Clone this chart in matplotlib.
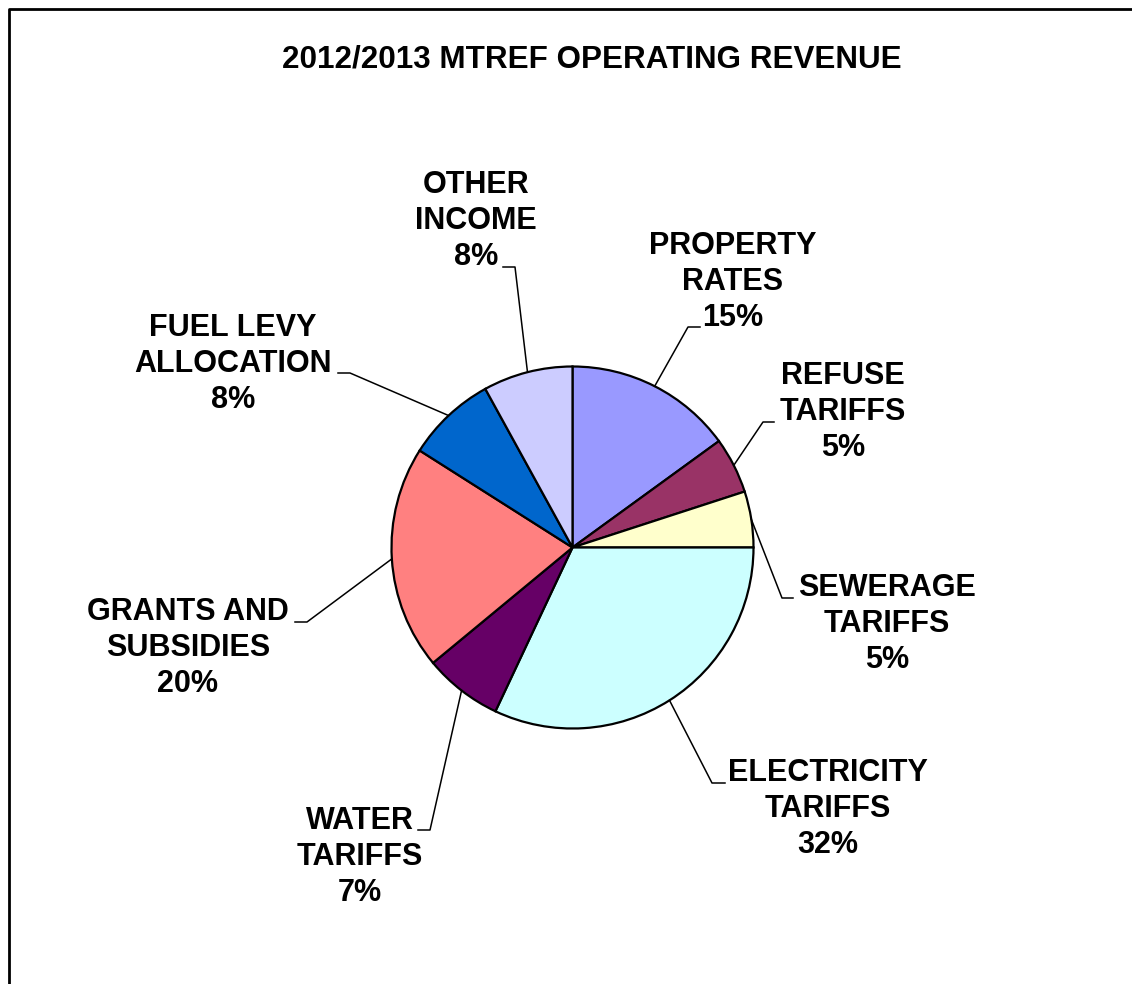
import numpy as np
import matplotlib.pyplot as plt
from matplotlib.lines import Line2D

# Revenue split, percent of total (clockwise from 12 o'clock)
categories = ["PROPERTY\nRATES", "REFUSE\nTARIFFS", "SEWERAGE\nTARIFFS",
              "ELECTRICITY\nTARIFFS", "WATER\nTARIFFS", "GRANTS AND\nSUBSIDIES",
              "FUEL LEVY\nALLOCATION", "OTHER\nINCOME"]
shares = [15, 5, 5, 32, 7, 20, 8, 8]
colors = ["#9999FF", "#993366", "#FFFFCC", "#CCFFFF",
          "#660066", "#FF8080", "#0066CC", "#CCCCFF"]

W, H = 1132, 984

# label centres and leader elbows, in pixel coords (y down)
label_xy = [(733, 282), (843, 412), (887, 624), (828, 809),
            (360, 857), (188, 648), (233, 364), (476, 221)]
elbow_xy = [((688, 327), (700, 327)), ((763, 422), (774, 422)),
            ((782, 598), (793, 598)), ((712, 783), (725, 783)),
            ((430, 830), (418, 830)), ((307, 622), (295, 622)),
            ((350, 373), (338, 373)), ((515, 267), (503, 267))]

def fy(y):
    return H - y

fig = plt.figure(figsize=(W / 100, H / 100), dpi=100)
ax = fig.add_axes([0, 0, 1, 1])

cx, cy, r = 572.5, fy(547.5), 181
wedges, _ = ax.pie(shares, colors=colors, startangle=90, counterclock=False,
                   center=(cx, cy), radius=r, frame=True,
                   wedgeprops=dict(edgecolor="black", linewidth=1.6))
ax.set_xlim(0, W)
ax.set_ylim(0, H)
ax.set_aspect("equal")
ax.axis("off")

font = dict(family="Liberation Sans", weight="bold")

for w, name, val, (lx, ly), (p1, p2) in zip(wedges, categories, shares, label_xy, elbow_xy):
    mid = np.radians((w.theta1 + w.theta2) / 2)
    sx, sy = cx + r * np.cos(mid), cy + r * np.sin(mid)
    ax.add_line(Line2D([sx, p1[0], p2[0]], [sy, fy(p1[1]), fy(p2[1])],
                       color="black", lw=1.1))
    ax.text(lx, fy(ly), "{}\n{}%".format(name, val), ha="center", va="center",
            linespacing=1.28, fontsize=22, **font)

ax.text(592, fy(60), "2012/2013 MTREF OPERATING REVENUE", ha="center",
        va="center", fontsize=22.6, **font)

# chart frame: only top and left edges fall inside the image
ax.add_line(Line2D([9, 9, W], [0, fy(9), fy(9)], color="black", lw=2))

fig.savefig("out.png", dpi=100)
